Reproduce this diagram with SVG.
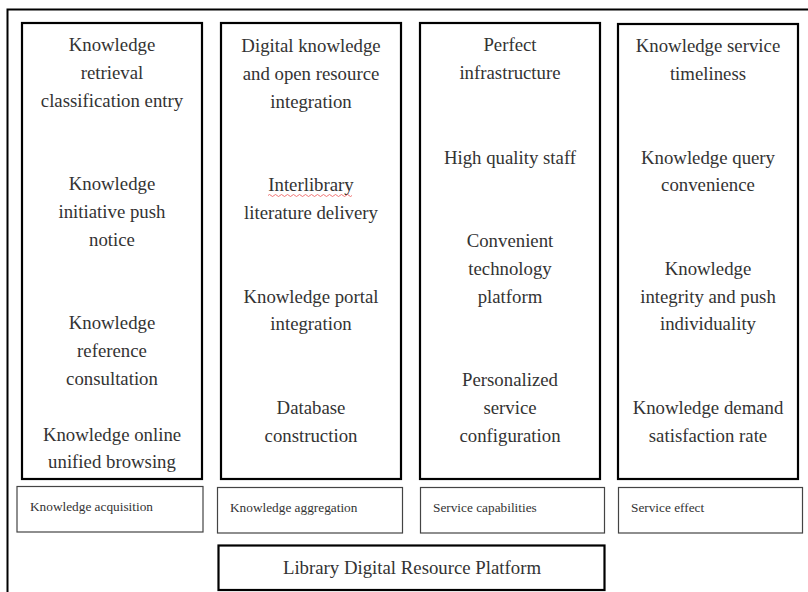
<svg xmlns="http://www.w3.org/2000/svg" width="808" height="592" viewBox="0 0 808 592">
<style>
.col{fill:#fff;stroke:#000;stroke-width:2.2}
.lab{fill:#fff;stroke:#444;stroke-width:1.2}
.t{font-family:"Liberation Serif","Times New Roman",serif;font-size:18.8px;fill:#333;text-anchor:middle}
.s{font-family:"Liberation Serif","Times New Roman",serif;font-size:13.3px;fill:#333}
</style>
<rect x="0" y="0" width="808" height="592" fill="#fff"/>
<g id="frame"><rect x="7.5" y="9.5" width="810" height="600" fill="none" stroke="#000" stroke-width="2"/></g>
<g id="col1">
<rect class="col" x="22" y="23" width="180" height="456"/>
<text class="t"><tspan x="112" y="51">Knowledge</tspan><tspan x="112" y="79">retrieval</tspan><tspan x="112" y="107">classification entry</tspan></text>
<text class="t"><tspan x="112" y="190">Knowledge</tspan><tspan x="112" y="218">initiative push</tspan><tspan x="112" y="246">notice</tspan></text>
<text class="t"><tspan x="112" y="329">Knowledge</tspan><tspan x="112" y="357">reference</tspan><tspan x="112" y="385">consultation</tspan></text>
<text class="t"><tspan x="112" y="441">Knowledge online</tspan><tspan x="112" y="468">unified browsing</tspan></text>
</g>
<g id="col2">
<rect class="col" x="221" y="23" width="180" height="456"/>
<text class="t"><tspan x="311" y="52">Digital knowledge</tspan><tspan x="311" y="80">and open resource</tspan><tspan x="311" y="108">integration</tspan></text>
<text class="t"><tspan x="311" y="191">Interlibrary</tspan><tspan x="311" y="219">literature delivery</tspan></text>
<path d="M268 195.5 q1.5 -2 3 0 t3 0 t3 0 t3 0 t3 0 t3 0 t3 0 t3 0 t3 0 t3 0 t3 0 t3 0 t3 0 t3 0 t3 0 t3 0 t3 0 t3 0 t3 0 t3 0 t3 0 t3 0 t3 0 t3 0 t3 0 t3 0 t3 0 t3 0" fill="none" stroke="#e55" stroke-width="0.8"/>
<text class="t"><tspan x="311" y="303">Knowledge portal</tspan><tspan x="311" y="330">integration</tspan></text>
<text class="t"><tspan x="311" y="414">Database</tspan><tspan x="311" y="442">construction</tspan></text>
</g>
<g id="col3">
<rect class="col" x="420" y="23" width="180" height="456"/>
<text class="t"><tspan x="510" y="51">Perfect</tspan><tspan x="510" y="79">infrastructure</tspan></text>
<text class="t" x="510" y="164">High quality staff</text>
<text class="t"><tspan x="510" y="247">Convenient</tspan><tspan x="510" y="275">technology</tspan><tspan x="510" y="303">platform</tspan></text>
<text class="t"><tspan x="510" y="386">Personalized</tspan><tspan x="510" y="414">service</tspan><tspan x="510" y="442">configuration</tspan></text>
</g>
<g id="col4">
<rect class="col" x="618" y="24" width="180" height="455"/>
<text class="t"><tspan x="708" y="52">Knowledge service</tspan><tspan x="708" y="80">timeliness</tspan></text>
<text class="t"><tspan x="708" y="164">Knowledge query</tspan><tspan x="708" y="191">convenience</tspan></text>
<text class="t"><tspan x="708" y="275">Knowledge</tspan><tspan x="708" y="303">integrity and push</tspan><tspan x="708" y="330">individuality</tspan></text>
<text class="t"><tspan x="708" y="414">Knowledge demand</tspan><tspan x="708" y="442">satisfaction rate</tspan></text>
</g>
<g id="lab1"><rect class="lab" x="17" y="486.5" width="186" height="45.5"/><text class="s" x="30" y="511">Knowledge acquisition</text></g>
<g id="lab2"><rect class="lab" x="217.5" y="487.5" width="185" height="45.5"/><text class="s" x="230" y="512">Knowledge aggregation</text></g>
<g id="lab3"><rect class="lab" x="420.5" y="487.5" width="184" height="45.5"/><text class="s" x="433" y="512">Service capabilities</text></g>
<g id="lab4"><rect class="lab" x="618.5" y="487.5" width="184" height="45.5"/><text class="s" x="631" y="512">Service effect</text></g>
<g id="platform"><rect class="col" x="218.5" y="545.5" width="386" height="44.5"/><text class="t" x="412" y="574">Library Digital Resource Platform</text></g>
<g id="connectors"></g>
</svg>
